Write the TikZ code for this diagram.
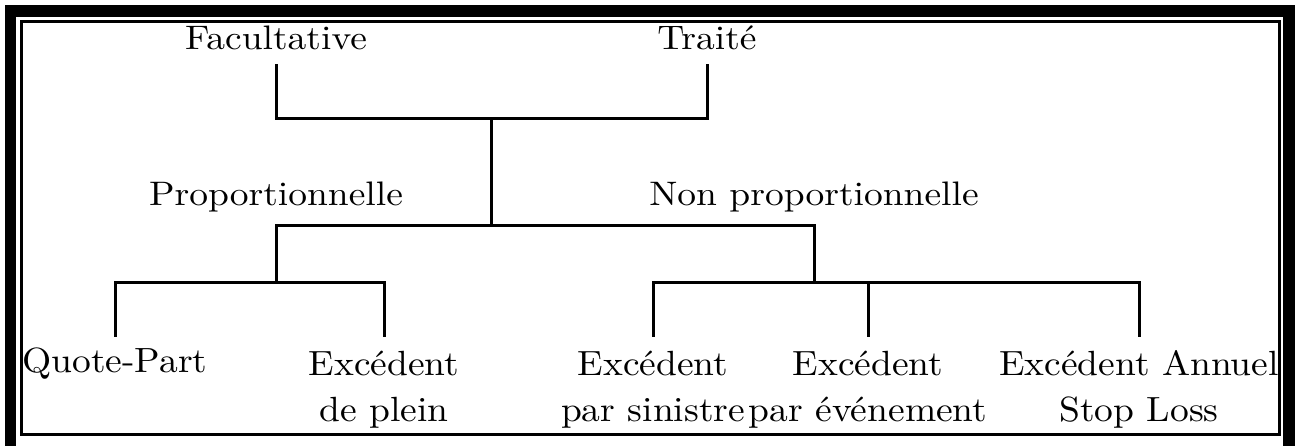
\documentclass[tikz,border=0pt]{standalone}
\usepackage{graphicx}
\usetikzlibrary{calc}

% upper labels and lower labels (possibly two lines), set at 10pt and enlarged
\newcommand\tlabel[1]{\scalebox{3.75}[3.4]{#1}}
\newcommand\blabel[1]{\scalebox{3.75}[3.5]{\begin{tabular}[t]{@{}c@{}}#1\end{tabular}}}

\begin{document}
\begin{tikzpicture}[x=1pt,y=1pt,
  lbl/.style={inner sep=0pt, anchor=base, font=\fontsize{10}{13.4}\selectfont},
  conn/.style={line width=3pt, line join=miter, line cap=rect}]
\useasboundingbox (0,0) rectangle (1303,-446);

% double frame
\draw[line width=11.5pt] (10.5,-11) rectangle (1289,-452);
\draw[line width=3pt] (21.5,-21.5) rectangle (1279.5,-434);

% labels
\node[lbl] (fac) at (276,-50) {\tlabel{Facultative}};
\node[lbl] (tra) at (707,-50) {\tlabel{Traité}};
\node[lbl] (prop) at (276,-206) {\tlabel{Proportionnelle}};
\node[lbl] (nonprop) at (814,-206) {\tlabel{Non proportionnelle}};
\node[lbl] (qp) at (115,-372) {\blabel{Quote-Part}};
\node[lbl] (plein) at (384,-375) {\blabel{Excédent\\de plein}};
\node[lbl] (sin) at (653,-375) {\blabel{Excédent\\par sinistre}};
\node[lbl] (evt) at (868,-375) {\blabel{Excédent\\par événement}};
\node[lbl] (stop) at (1139,-375) {\blabel{Excédent Annuel\\Stop Loss}};

% junction points
\coordinate (topbar) at ($(fac.base)!0.5!(tra.base)+(0,-69)$);
\coordinate (midL) at ($(prop.base)+(0,-20)$);
\coordinate (midR) at ($(nonprop.base)+(0,-20)$);
\coordinate (lowL) at ($(midL)+(0,-56)$);
\coordinate (lowR) at ($(midR)+(0,-56)$);

% connectors
\draw[conn] ($(fac.base)+(0,-16)$) |- (topbar) -| ($(tra.base)+(0,-16)$);
\draw[conn] (topbar) -- (topbar |- midL);
\draw[conn] (midL) -- (midR);
\draw[conn] (midL) -- (lowL);
\draw[conn] (midR) -- (lowR);
\draw[conn] ($(qp.base)+(0,37)$) |- (lowL) -| ($(plein.base)+(0,40)$);
\draw[conn] ($(sin.base)+(0,40)$) |- (lowR) -| ($(stop.base)+(0,40)$);
\draw[conn] ($(evt.base)+(0,40)$) -- (lowR -| evt.base);
\end{tikzpicture}
\end{document}
